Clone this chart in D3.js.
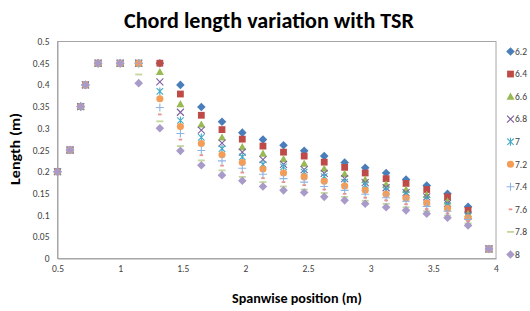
<!DOCTYPE html>
<html><head><meta charset="utf-8">
<script src="https://cdn.jsdelivr.net/npm/d3@7"></script>
<style>body{margin:0;background:#fff}svg{display:block}</style>
</head><body>
<script>
// ---- data ----
const spanwise = [0.5,0.6,0.685,0.723,0.824,1.0,1.148,1.317,1.481,1.648,1.813,1.975,2.14,2.304,2.469,2.629,2.792,2.956,3.123,3.282,3.447,3.613,3.777,3.944];
const tsrLabels = ["6.2","6.4","6.6","6.8","7","7.2","7.4","7.6","7.8","8"];
const tsr62 = [0.2,0.25,0.35,0.4,0.45,0.45,0.45,0.45,0.400,0.349,0.315,0.290,0.274,0.261,0.248,0.236,0.221,0.209,0.197,0.182,0.168,0.149,0.119,0.022];
const tsr64 = [0.2,0.25,0.35,0.4,0.45,0.45,0.45,0.45,0.379,0.330,0.297,0.275,0.259,0.245,0.236,0.222,0.210,0.197,0.184,0.173,0.159,0.142,0.111,0.022];
const tsr66 = [0.2,0.25,0.35,0.4,0.45,0.45,0.45,0.430,0.356,0.309,0.279,0.257,0.242,0.229,0.219,0.207,0.195,0.182,0.171,0.159,0.147,0.132,0.103,0.022];
const tsr68 = [0.2,0.25,0.35,0.4,0.45,0.45,0.45,0.407,0.337,0.296,0.266,0.245,0.228,0.217,0.205,0.196,0.184,0.175,0.163,0.152,0.142,0.127,0.100,0.022];
const tsr70 = [0.2,0.25,0.35,0.4,0.45,0.45,0.45,0.385,0.318,0.279,0.253,0.234,0.217,0.211,0.199,0.189,0.176,0.169,0.157,0.147,0.136,0.122,0.097,0.022];
const tsr72 = [0.2,0.25,0.35,0.4,0.45,0.45,0.45,0.368,0.304,0.265,0.239,0.221,0.206,0.197,0.188,0.178,0.167,0.157,0.148,0.139,0.128,0.115,0.094,0.022];
const tsr74 = [0.2,0.25,0.35,0.4,0.45,0.45,0.45,0.348,0.288,0.249,0.225,0.208,0.194,0.184,0.176,0.166,0.157,0.148,0.140,0.132,0.120,0.109,0.090,0.022];
const tsr76 = [0.2,0.25,0.35,0.4,0.45,0.45,0.45,0.332,0.274,0.238,0.214,0.198,0.185,0.176,0.169,0.159,0.149,0.140,0.134,0.125,0.114,0.104,0.086,0.022];
const tsr78 = [0.2,0.25,0.35,0.4,0.45,0.45,0.424,0.316,0.259,0.226,0.203,0.188,0.176,0.166,0.159,0.151,0.142,0.133,0.126,0.118,0.109,0.099,0.081,0.022];
const tsr80 = [0.2,0.25,0.35,0.4,0.45,0.45,0.404,0.300,0.248,0.215,0.192,0.179,0.166,0.157,0.152,0.142,0.134,0.126,0.118,0.111,0.103,0.094,0.076,0.022];
const xTicks = [0.5,1,1.5,2,2.5,3,3.5,4];
const yTicks = [0,0.05,0.1,0.15,0.2,0.25,0.3,0.35,0.4,0.45,0.5];

const seriesValues = [tsr62,tsr64,tsr66,tsr68,tsr70,tsr72,tsr74,tsr76,tsr78,tsr80];
const colors = ["#4A7EBB","#BE4B48","#98B954","#7D60A0","#46AAC5","#F59D56","#8EB4E3","#E6928F","#C3D69B","#A99BC9"];
const shapes = ["diamond","square","triangle","x","star","circle","plus","dashS","dashL","diamond"];

const W = 530, H = 311;
const svg = d3.select("body").append("svg").attr("width", W).attr("height", H);
const font = "Calibri, Carlito, Lato, 'Open Sans', sans-serif";

const x = d3.scaleLinear().domain([0.5, 4]).range([57.5, 496]);
const y = d3.scaleLinear().domain([0, 0.5]).range([258.5, 41.5]);

// plot border
svg.append("rect").attr("x", 57.5).attr("y", 41.5).attr("width", 496 - 57.5).attr("height", 258.5 - 41.5)
  .attr("fill", "none").attr("stroke", "#A6A6A6").attr("stroke-width", 1);

// axes
const xAxis = svg.append("g").attr("transform", "translate(0,258.5)")
  .call(d3.axisBottom(x).tickValues(xTicks).tickSize(0).tickPadding(7).tickFormat(d3.format("")));
const yAxis = svg.append("g").attr("transform", "translate(57.5,0)")
  .call(d3.axisLeft(y).tickValues(yTicks).tickSize(0).tickPadding(8).tickFormat(d3.format("")));
[xAxis, yAxis].forEach(a => {
  a.select(".domain").attr("stroke", "#A6A6A6");
  a.selectAll("text").attr("font-family", font).attr("font-size", 9.5).attr("fill", "#404040");
});

function markerPath(shape) {
  switch (shape) {
    case "diamond": return "M0,-4.3L4.3,0L0,4.3L-4.3,0Z";
    case "square": return "M-3.4,-3.4H3.4V3.4H-3.4Z";
    case "triangle": return "M0,-4L4,3.2L-4,3.2Z";
    case "circle": return d3.symbol(d3.symbolCircle, 40)();
    case "x": return "M-3.5,-3.5L3.5,3.5M-3.5,3.5L3.5,-3.5";
    case "star": return "M-3.2,-3.2L3.2,3.2M-3.2,3.2L3.2,-3.2M0,-4L0,4";
    case "plus": return "M-4,0L4,0M0,-4L0,4";
    case "dashS": return "M-1.8,0L1.8,0";
    case "dashL": return "M-3.5,0L3.5,0";
  }
}
const stroked = s => ["x","star","plus","dashS","dashL"].includes(s);

function drawMarker(g, shape, color) {
  const p = g.append("path").attr("d", markerPath(shape));
  if (stroked(shape)) p.attr("fill", "none").attr("stroke", color).attr("stroke-width", shape.startsWith("dash") ? 1.8 : 1.1);
  else p.attr("fill", color);
}

// series
seriesValues.forEach((vals, i) => {
  const g = svg.append("g");
  vals.forEach((v, j) => {
    const m = g.append("g").attr("transform", `translate(${x(spanwise[j])},${y(v)})`);
    drawMarker(m, shapes[i], colors[i]);
  });
});

// legend
const lg = svg.append("g");
tsrLabels.forEach((t, i) => {
  const ly = 51.5 + i * 22.55;
  const m = lg.append("g").attr("transform", `translate(510.5,${ly})`);
  drawMarker(m, shapes[i], colors[i]);
  lg.append("text").attr("x", 515).attr("y", ly).attr("dy", "0.35em")
    .attr("font-family", font).attr("font-size", 9.5).attr("fill", "#404040").text(t);
});

// titles
svg.append("text").attr("x", 269).attr("y", 28).attr("text-anchor", "middle")
  .attr("font-family", font).attr("font-weight", "bold").attr("font-size", 23).attr("fill", "#000")
  .attr("textLength", 290).attr("lengthAdjust", "spacingAndGlyphs")
  .text("Chord length variation with TSR");
svg.append("text").attr("x", 297).attr("y", 303).attr("text-anchor", "middle")
  .attr("font-family", font).attr("font-weight", "bold").attr("font-size", 14.5).attr("fill", "#000")
  .attr("textLength", 130).attr("lengthAdjust", "spacingAndGlyphs")
  .text("Spanwise position (m)");
svg.append("text").attr("transform", "translate(20,149) rotate(-90)").attr("text-anchor", "middle")
  .attr("font-family", font).attr("font-weight", "bold").attr("font-size", 14.5).attr("fill", "#000")
  .attr("textLength", 72).attr("lengthAdjust", "spacingAndGlyphs")
  .text("Length (m)");
</script>
</body></html>
